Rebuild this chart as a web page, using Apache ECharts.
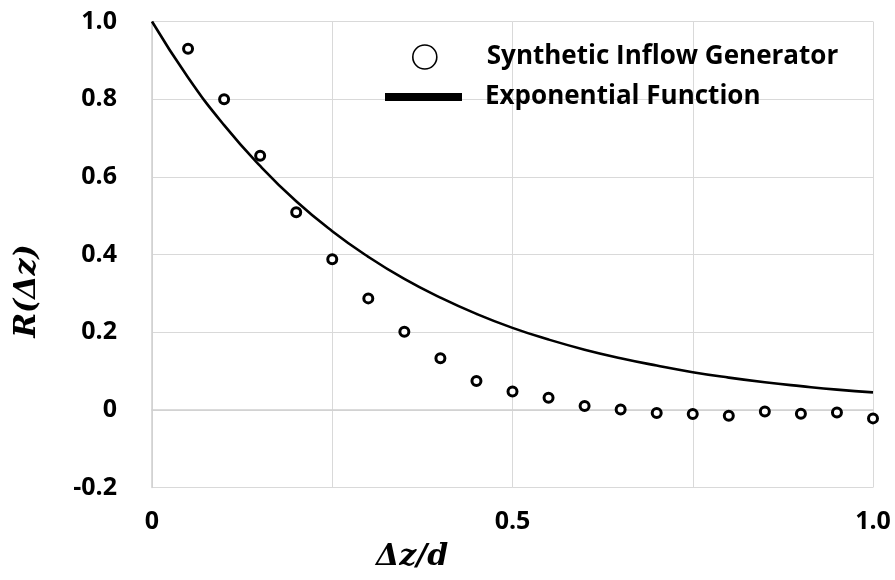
<!DOCTYPE html>
<html>
<head>
<meta charset="utf-8">
<script src="https://cdn.jsdelivr.net/npm/echarts@6/dist/echarts.min.js"></script>
<style>html,body{margin:0;padding:0;background:#fff}#c{width:895px;height:580px}</style>
</head>
<body>
<div id="c"></div>
<script>
// Synthetic Inflow Generator (open circles)
var sigX = [0.05, 0.10, 0.15, 0.20, 0.25, 0.30, 0.35, 0.40, 0.45, 0.50, 0.55, 0.60, 0.65, 0.70, 0.75, 0.80, 0.85, 0.90, 0.95, 1.00];
var sigY = [0.930, 0.800, 0.654, 0.509, 0.388, 0.287, 0.201, 0.133, 0.074, 0.047, 0.031, 0.010, 0.001, -0.008, -0.011, -0.015, -0.004, -0.010, -0.007, -0.022];
// Exponential Function (solid line)
var expX = [0, 0.05, 0.10, 0.15, 0.20, 0.25, 0.30, 0.35, 0.40, 0.45, 0.50, 0.55, 0.60, 0.65, 0.70, 0.75, 0.80, 0.85, 0.90, 0.95, 1.00];
var expY = [1.000, 0.856, 0.733, 0.628, 0.537, 0.460, 0.394, 0.337, 0.289, 0.247, 0.211, 0.181, 0.155, 0.133, 0.114, 0.097, 0.083, 0.071, 0.061, 0.052, 0.045];
// tick labels
var xTickLabels = {'0': '0', '0.5': '0.5', '1': '1.0'};
var seriesNames = ['Synthetic Inflow Generator', 'Exponential Function'];

var chart = echarts.init(document.getElementById('c'), null, {renderer: 'canvas'});
var labelFont = {fontFamily: 'Open Sans', fontWeight: 'bold', fontSize: 25, color: '#000'};
var legendFont = {fontFamily: 'Open Sans', fontWeight: 'bold', fontSize: 26, color: '#000'};
var nameFont = {fontFamily: 'DejaVu Serif', fontWeight: 'bold', fontStyle: 'italic', fontSize: 30, color: '#000'};

chart.setOption({
  animation: false,
  backgroundColor: '#fff',
  grid: {left: 152, right: 22, top: 21.5, bottom: 92.5, containLabel: false, outerBoundsMode: 'none'},
  xAxis: {
    type: 'value', min: 0, max: 1, interval: 0.25,
    name: 'Δz/d', nameLocation: 'middle', nameGap: 55,
    nameTextStyle: Object.assign({}, nameFont, {padding: [0, 201, 0, 0]}),
    axisLine: {show: true, lineStyle: {color: '#cfcfcf', width: 1.5}},
    axisTick: {show: false},
    axisLabel: Object.assign({}, labelFont, {margin: 22, formatter: function (v) {
      var k = String(Math.round(v * 100) / 100);
      return xTickLabels.hasOwnProperty(k) ? xTickLabels[k] : '';
    }}),
    splitLine: {show: true, lineStyle: {color: '#d9d9d9', width: 1}}
  },
  yAxis: {
    type: 'value', min: -0.2, max: 1.0, interval: 0.2,
    name: 'R(Δz)', nameLocation: 'middle', nameGap: 110, nameRotate: 90,
    nameTextStyle: Object.assign({}, nameFont, {padding: [0, 73, 0, 0]}),
    axisLine: {show: true, lineStyle: {color: '#cfcfcf', width: 1.5}},
    axisTick: {show: false},
    axisLabel: Object.assign({}, labelFont, {margin: 35, formatter: function (v) {
      return Math.abs(v) < 1e-9 ? '0' : v.toFixed(1);
    }}),
    splitLine: {show: true, lineStyle: {color: '#d9d9d9', width: 1}}
  },
  legend: [
    {
      selectedMode: false, orient: 'vertical', left: 412, top: 44, padding: 0,
      itemWidth: 24, itemHeight: 24,
      textStyle: Object.assign({}, legendFont, {padding: [0, 0, 0, 45]}),
      data: [{name: seriesNames[0], icon: 'circle', itemStyle: {color: '#fff', borderColor: '#000', borderWidth: 1.6}}]
    },
    {
      selectedMode: false, orient: 'vertical', left: 385, top: 84, padding: 0,
      itemWidth: 77, itemHeight: 8,
      textStyle: Object.assign({}, legendFont, {padding: [0, 0, 0, 18]}),
      data: [{name: seriesNames[1], icon: 'rect', itemStyle: {color: '#000', borderWidth: 0}}]
    }
  ],
  series: [
    {
      name: seriesNames[1], type: 'line', smooth: true, symbol: 'none',
      data: expX.map(function (x, i) { return [x, expY[i]]; }),
      lineStyle: {color: '#000', width: 2.6},
      itemStyle: {color: '#000'}, z: 2
    },
    {
      name: seriesNames[0], type: 'scatter', symbol: 'circle', symbolSize: 9,
      data: sigX.map(function (x, i) { return [x, sigY[i]]; }),
      itemStyle: {color: '#fff', borderColor: '#000', borderWidth: 3, opacity: 1},
      z: 3
    }
  ]
});
</script>
</body>
</html>
